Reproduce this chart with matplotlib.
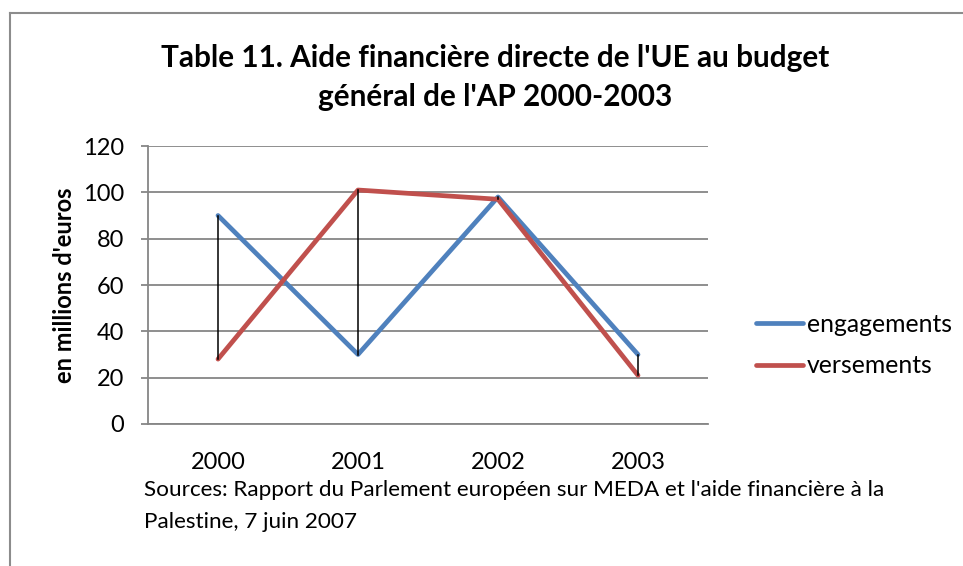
import matplotlib

matplotlib.use("Agg")
import matplotlib.pyplot as plt
from matplotlib.lines import Line2D

plt.rcParams["font.family"] = ["Lato", "DejaVu Sans"]

years = ["2000", "2001", "2002", "2003"]
engagements = [90, 30, 98, 30]
versements = [28, 101, 97, 21]
y_ticks = [0, 20, 40, 60, 80, 100, 120]

BLUE = "#4F81BD"
RED = "#C0504D"
GRID = "#868686"

W, H = 963, 566
fig = plt.figure(figsize=(W / 100, H / 100), dpi=100)

# outer chart border (extends past the right and bottom of the picture)
fig.add_artist(Line2D([10 / W, 10 / W], [0, 1 - 13 / H], color="#8c8c8c", lw=1.5))
fig.add_artist(Line2D([10 / W, 1], [1 - 13 / H, 1 - 13 / H], color="#8c8c8c", lw=1.5))

ax = fig.add_axes([148 / W, 1 - 424 / H, (708 - 148) / W, (424 - 146) / H])
x = list(range(len(years)))

# high-low lines
for xi, a, b in zip(x, engagements, versements):
    ax.plot([xi, xi], [a, b], color="black", lw=1.1, zorder=4)

ax.plot(x, engagements, color=BLUE, lw=3.4, solid_capstyle="round",
        solid_joinstyle="round", label="engagements", zorder=3)
ax.plot(x, versements, color=RED, lw=3.4, solid_capstyle="round",
        solid_joinstyle="round", label="versements", zorder=3)

ax.set_xlim(-0.5, len(years) - 0.5)
ax.set_ylim(0, 120)
ax.set_yticks(y_ticks)
ax.set_xticks(x)
ax.set_xticklabels(years)
ax.yaxis.grid(True, color=GRID, lw=1.3)
ax.set_axisbelow(True)
for s in ["top", "right"]:
    ax.spines[s].set_visible(False)
for s in ["left", "bottom"]:
    ax.spines[s].set_color(GRID)
    ax.spines[s].set_linewidth(1.3)
ax.tick_params(axis="y", length=5, color=GRID, width=1.3, labelsize=17, pad=12)
ax.tick_params(axis="x", length=0, labelsize=17, pad=20)
ax.set_ylabel("en millions d'euros", fontsize=17, fontweight="bold", labelpad=5)

fig.text(0.514, 1 - 58 / H, "Table 11. Aide financière directe de l'UE au budget",
         ha="center", va="center", fontsize=21.4, fontweight="bold")
fig.text(0.514, 1 - 97 / H, "général de l'AP 2000-2003",
         ha="center", va="center", fontsize=21.4, fontweight="bold")

fig.text(144 / W, 1 - 490 / H,
         "Sources: Rapport du Parlement européen sur MEDA et l'aide financière à la",
         ha="left", va="center", fontsize=16.2)
fig.text(144 / W, 1 - 522 / H, "Palestine, 7 juin 2007",
         ha="left", va="center", fontsize=16.2)

fig.legend(loc="center left", bbox_to_anchor=(746 / W, 1 - 345 / H), frameon=False,
           fontsize=17.8, handlelength=1.9, handletextpad=0.15, labelspacing=0.75,
           borderaxespad=0)

fig.savefig("out.png", dpi=100)
